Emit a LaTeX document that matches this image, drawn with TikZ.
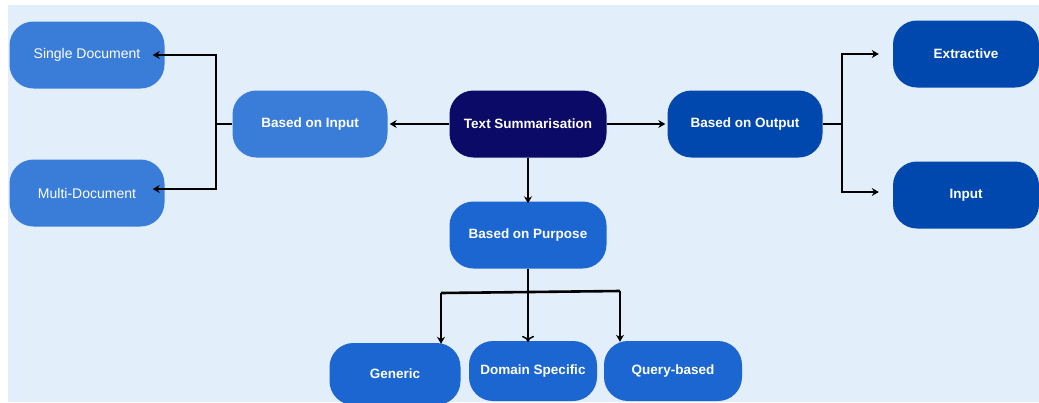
\documentclass[tikz,border=0pt]{standalone}
\usepackage{fontspec}
\setmainfont{Liberation Sans}
\usetikzlibrary{arrows.meta}
\definecolor{pagebg}{HTML}{E3EEFB}
\definecolor{rootnavy}{HTML}{0B0A66}
\definecolor{inblue}{HTML}{3A7DD8}
\definecolor{outblue}{HTML}{0048AD}
\definecolor{purpblue}{HTML}{1B66D0}
\tikzset{
  pill/.style={rounded corners=24pt, minimum width=155pt, minimum height=67pt,
    text=white, font=\bfseries\fontsize{13.5}{15}\selectfont, inner sep=0pt},
  thinpill/.style={pill, font=\fontsize{14}{16}\selectfont},
  link/.style={line width=2.6pt, black, -{Stealth[length=7pt,width=8pt]}},
  plainlink/.style={line width=2.6pt, black},
  openlink/.style={line width=1.5pt, black, -{To[length=6pt,width=12pt]}}
}
\begin{document}
\begin{tikzpicture}[x=1pt,y=-1pt]
  \useasboundingbox (0,0) rectangle (1039,402);
  \fill[white] (0,0) rectangle (1039,402);
  \fill[pagebg] (8,5) rectangle (1039,402);

  % central node and the three classification criteria
  \node[pill, fill=rootnavy, minimum width=157pt] (ts) at (528,124) {Text Summarisation};
  \node[pill, fill=inblue] (bi) at (310,124) {Based on Input};
  \node[pill, fill=outblue] (bo) at (745,124) {Based on Output};
  \node[pill, fill=purpblue, minimum width=157pt] (bp) at (528,235) {Based on Purpose};

  % input-based types
  \node[thinpill, fill=inblue] (sd) at (87,55) {Single Document};
  \node[thinpill, fill=inblue] (md) at (87,193) {Multi-Document};

  % output-based types
  \node[pill, fill=outblue, minimum width=146pt] (ex) at (966,54) {Extractive};
  \node[pill, fill=outblue, minimum width=146pt] (ip) at (966,195) {Input};

  % purpose-based types
  \node[pill, fill=purpblue, minimum width=131pt, minimum height=62pt] (ge) at (395,374) {Generic};
  \node[pill, fill=purpblue, minimum width=128pt, minimum height=60pt] (ds) at (533,371) {Domain Specific};
  \node[pill, fill=purpblue, minimum width=138pt, minimum height=60pt] (qb) at (673,371) {Query-based};

  % root to criteria
  \draw[link] (ts.west) -- ([xshift=2pt]bi.east);
  \draw[link] (ts.east) -- ([xshift=-2pt]bo.west);
  \draw[link] (ts.south) -- ([yshift=-2pt]bp.north);

  % input branch
  \coordinate (jl) at (216,124);
  \draw[plainlink] (bi.west) -- (jl);
  \draw[link] (jl) |- ([xshift=-12pt]sd.east);
  \draw[link] (jl) |- ([xshift=-12pt,yshift=4pt]md.east);

  % output branch
  \coordinate (jr) at (842,124);
  \draw[plainlink] (bo.east) -- (jr);
  \draw[link] (jr) |- ([xshift=-14pt]ex.west);
  \draw[link] (jr) |- ([xshift=-14pt,yshift=3pt]ip.west);

  % purpose branch
  \coordinate (jb) at (528,291);
  \draw[plainlink] (bp.south) -- (jb);
  \draw[plainlink] (441,293) -- (620,291);
  \draw[link] (441,293) -- ([yshift=-1pt]ge.north -| 441,0);
  \draw[link] (620,291) -- ([yshift=-1pt]qb.north -| 620,0);
  \draw[openlink] (jb) -- ([yshift=-1pt]ds.north -| 528,0);
\end{tikzpicture}
\end{document}
